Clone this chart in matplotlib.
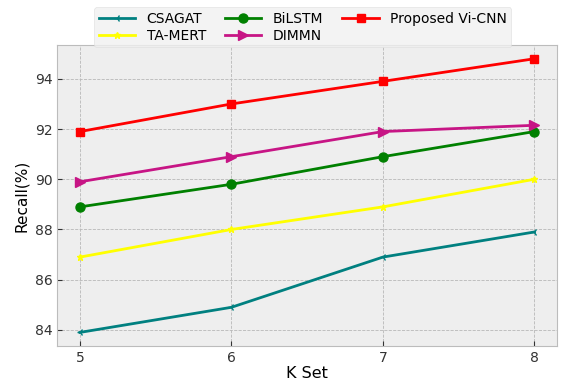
import matplotlib
matplotlib.use('Agg')
import matplotlib.pyplot as plt

k_set = [5, 6, 7, 8]
csagat = [83.9, 84.9, 86.9, 87.9]
ta_mert = [86.9, 88.0, 88.9, 90.0]
bilstm = [88.9, 89.8, 90.9, 91.9]
dimmn = [89.9, 90.9, 91.9, 92.15]
vi_cnn = [91.9, 93.0, 93.9, 94.8]

plt.style.use('bmh')
fig = plt.figure(figsize=(5.61, 3.82), dpi=100)
ax = fig.add_axes([0.102, 0.094, 0.891, 0.788])

ax.plot(k_set, csagat, color='teal', marker='3', markersize=5, linewidth=2, label='CSAGAT')
ax.plot(k_set, ta_mert, color='yellow', marker='*', markersize=5, linewidth=2, label='TA-MERT')
ax.plot(k_set, bilstm, color='green', marker='o', markersize=6.5, linewidth=2, label='BiLSTM')
ax.plot(k_set, dimmn, color='mediumvioletred', marker='>', markersize=6.5, linewidth=2, label='DIMMN')
ax.plot(k_set, vi_cnn, color='red', marker='s', markersize=6, linewidth=2, label='Proposed Vi-CNN')

ax.set_xticks(k_set)
ax.set_yticks([84, 86, 88, 90, 92, 94])
ax.tick_params(labelsize=10, colors='#333333')
ax.grid(True, linestyle='--', linewidth=0.6, color='#b8b8b8')
ax.set_xlabel('K Set', fontsize=11.5, labelpad=1)
ax.set_ylabel('Recall(%)', fontsize=11, labelpad=4)

fig.legend(loc='upper center', bbox_to_anchor=(0.54, 1.0), ncol=3, fontsize=10,
           frameon=True, facecolor='#f0f0f0', edgecolor='#dddddd',
           handlelength=2.6, columnspacing=1.4, labelspacing=0.2, borderpad=0.35)

plt.savefig('out.png', dpi=100)
